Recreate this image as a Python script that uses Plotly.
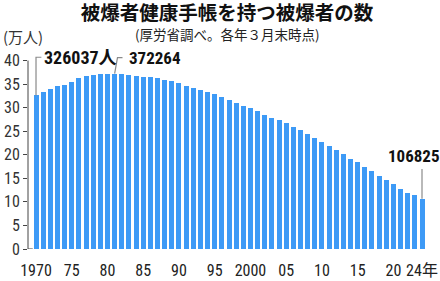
import plotly.graph_objects as go

years = list(range(1970, 2025))
values = [32.6037, 33.3, 33.9, 34.5, 34.9, 35.5, 36.3, 36.8, 37.0, 37.1,
          37.15, 37.2264, 37.1, 37.0, 36.8, 36.6, 36.5, 36.2, 35.9, 35.6,
          35.2, 34.7, 34.2, 33.8, 33.3, 32.8, 32.3, 31.6, 31.0, 30.4,
          29.9, 29.2, 28.5, 27.9, 27.4, 26.7, 25.9, 25.2, 24.4, 23.6,
          22.8, 21.9, 21.0, 20.1, 19.2, 18.4, 17.4, 16.5, 15.5, 14.6,
          13.7, 12.8, 11.9, 11.4, 10.6825]
tick_years = [1970, 1975, 1980, 1985, 1990, 1995, 2000, 2005, 2010, 2015, 2020, 2024]
tick_text = ["1970", "75", "80", "85", "90", "95", "2000", "05", "10", "15", "20", "24年"]
y_ticks = [0, 5, 10, 15, 20, 25, 30, 35, 40]
labels = {1970: "326037人", 1981: "372264", 2024: "106825"}

NUM = "Liberation Sans Narrow, Roboto Condensed, Roboto, Noto Sans CJK JP, sans-serif"
CJK = "Noto Sans CJK JP, sans-serif"
BAR = "#3d9af6"
GRAY = "#8a8a8a"

fig = go.Figure()
fig.add_trace(go.Bar(x=years, y=values, width=0.7, marker=dict(color=BAR, line=dict(width=0)),
                     hoverinfo="x+y"))
fig.add_trace(go.Scatter(x=tick_years, y=[-1.1] * len(tick_years), mode="markers",
                         marker=dict(size=4, color="#111"), cliponaxis=False, hoverinfo="skip"))

shapes = []
shapes.append(dict(type="line", xref="paper", yref="y", x0=0, x1=0, y0=0, y1=y_ticks[-1],
                   line=dict(color="#444", width=1)))
shapes.append(dict(type="line", xref="paper", yref="y", x0=0, x1=0.012, y0=0, y1=0,
                   line=dict(color="#444", width=1)))

i0 = years.index(1970)
x0, v0 = years[i0], values[i0]
shapes.append(dict(type="path", xref="x", yref="y",
                   path=f"M {x0},{v0} L {x0},{v0 + 8.1} L {x0 + 0.75},{v0 + 8.1}",
                   line=dict(color=GRAY, width=1.2)))
i1 = years.index(1981)
x1, v1 = years[i1], values[i1]
shapes.append(dict(type="path", xref="x", yref="y",
                   path=f"M {x1},{v1} L {x1 + 0.4},{v1 + 3.4} L {x1 + 1.1},{v1 + 3.4}",
                   line=dict(color=GRAY, width=1.2)))
i2 = years.index(2024)
x2, v2 = years[i2], values[i2]
shapes.append(dict(type="line", xref="x", yref="y", x0=x2, x1=x2, y0=v2, y1=v2 + 6.3,
                   line=dict(color=GRAY, width=1.2)))

annotations = [
    dict(text=labels[1970], x=x0, y=v0, xref="x", yref="y", xanchor="left", yanchor="middle",
         xshift=6, yshift=38, showarrow=False, font=dict(family=NUM, size=18, color="#111")),
    dict(text=labels[1981], x=x1, y=v1, xref="x", yref="y", xanchor="left", yanchor="middle",
         xshift=12, yshift=16, showarrow=False, font=dict(family=NUM, size=17, color="#111")),
    dict(text=labels[2024], x=x2, y=v2, xref="x", yref="y", xanchor="center", yanchor="middle",
         xshift=-8, yshift=43, showarrow=False, font=dict(family=NUM, size=17, color="#111")),
    dict(text="(厚労省調べ。各年３月末時点)", x=0.501, y=1.012, xref="paper", yref="paper",
         xanchor="center", yanchor="middle", showarrow=False,
         font=dict(family=CJK, size=13.5, color="#222")),
    dict(text="(万人)", x=-0.068, y=1.004, xref="paper", yref="paper",
         xanchor="left", yanchor="middle", showarrow=False,
         font=dict(family=CJK, size=15, color="#333")),
]

for a in annotations[:3]:
    a["font"]["weight"] = "bold"

fig.update_layout(
    width=440, height=281,
    margin=dict(l=28, r=14, t=37, b=32, autoexpand=False),
    paper_bgcolor="white", plot_bgcolor="white",
    showlegend=False,
    bargap=0,
    title=dict(text="<b>被爆者健康手帳を持つ被爆者の数</b>", x=0.516, xref="container",
               y=0.954, yref="container", xanchor="center", yanchor="middle",
               font=dict(family=CJK, size=19.5, color="#111")),
    xaxis=dict(range=[1968.88, 2024.56], tickvals=tick_years, ticktext=tick_text,
               ticks="", showline=False, showgrid=False, zeroline=False,
               tickangle=0, automargin=False, ticklabelstandoff=10,
               tickfont=dict(family=NUM, size=16, color="#222")),
    yaxis=dict(range=[0, 45], tickvals=y_ticks, ticks="outside", ticklen=4, tickcolor="#444",
               tickwidth=1, showline=False, showgrid=False, zeroline=False, automargin=False,
               tickfont=dict(family=NUM, size=16, color="#333")),
    shapes=shapes,
    annotations=annotations,
)

fig.write_html("out.html")
